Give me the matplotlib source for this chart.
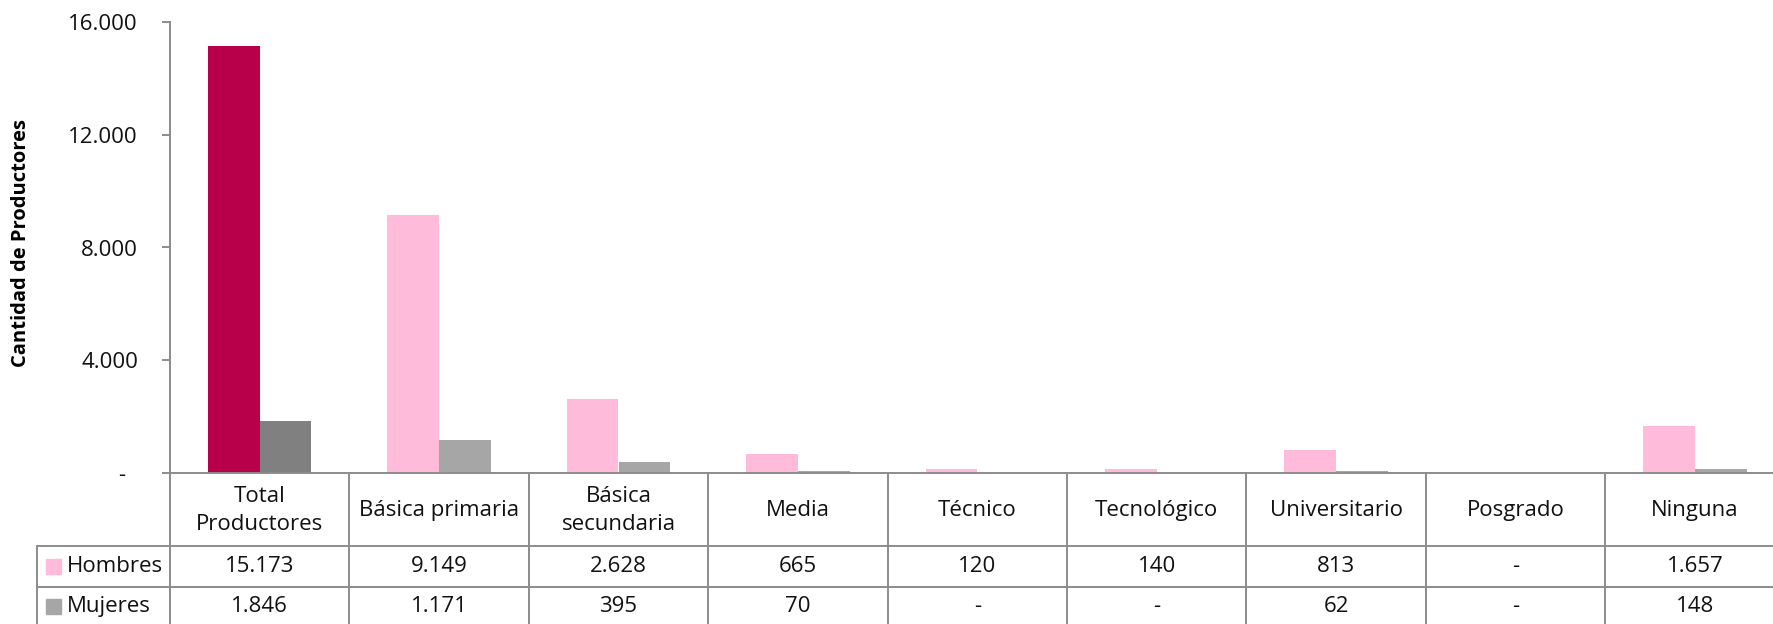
import matplotlib.pyplot as plt
from matplotlib.transforms import blended_transform_factory
from matplotlib.patches import Rectangle
from matplotlib.lines import Line2D
from matplotlib.ticker import FuncFormatter

categorias = ["Total\nProductores", "Básica primaria", "Básica\nsecundaria", "Media",
              "Técnico", "Tecnológico", "Universitario", "Posgrado", "Ninguna"]
hombres = [15173, 9149, 2628, 665, 120, 140, 813, 0, 1657]
mujeres = [1846, 1171, 395, 70, 0, 0, 62, 0, 148]
series = ["Hombres", "Mujeres"]
yticks = [0, 4000, 8000, 12000, 16000]

plt.rcParams['font.family'] = ['Open Sans', 'DejaVu Sans']

W, H = 1774, 624
GRIS = "#8c8c8c"
ROSA = "#ffbbd9"
GRIS_CLARO = "#a6a6a6"
CARMIN = "#b8004a"
GRIS_OSCURO = "#808080"

def fx(px):
  return px / W

def fy(py):
  return 1 - py / H

def miles(v):
  if v == 0:
    return "-"
  return f"{int(v):,}".replace(",", ".")

# bordes del area de trazado, en pixeles
x0, x1 = 170, 1784.6
y_top, y_cero = 22.3, 472.7

def ay(py):
  return (y_cero - py) / (y_cero - y_top)

fig = plt.figure(figsize=(W / 100, H / 100), dpi=100)
ax = fig.add_axes([fx(x0), fy(y_cero), fx(x1 - x0), (y_cero - y_top) / H])

w = 0.288
n = len(categorias)
xs = list(range(n))
col_h = [CARMIN] + [ROSA] * (n - 1)
col_m = [GRIS_OSCURO] + [GRIS_CLARO] * (n - 1)
ax.bar([x - w / 2 for x in xs], hombres, w, color=col_h, linewidth=0)
ax.bar([x + w / 2 for x in xs], mujeres, w, color=col_m, linewidth=0)

ax.set_xlim(-0.5, n - 0.5)
ax.set_ylim(0, 16000)
ax.set_yticks(yticks)
ax.yaxis.set_major_formatter(FuncFormatter(lambda v, p: "-  " if v == 0 else miles(v)))
ax.tick_params(axis="y", direction="out", length=6, width=1.4, color=GRIS,
               labelsize=16, pad=17, labelcolor="#111111")
ax.set_xticks([])
for s in ["top", "right"]:
  ax.spines[s].set_visible(False)
for s in ["left", "bottom"]:
  ax.spines[s].set_color(GRIS)
  ax.spines[s].set_linewidth(1.4)

ax.set_ylabel("Cantidad de Productores", fontsize=14.5, fontweight="bold")
ax.yaxis.set_label_coords((31 - x0) / (x1 - x0), 0.51)

# tabla de datos
tr = blended_transform_factory(ax.transData, ax.transAxes)
fila1, fila2, fondo = 545.7, 586.7, 630
for i in range(n + 1):
  ax.add_line(Line2D([i - 0.5, i - 0.5], [0, ay(fondo)], transform=tr,
                     color=GRIS, lw=1.4, clip_on=False))
for py in [fila1, fila2]:
  fig.add_artist(Line2D([fx(36.7), 1.0], [fy(py), fy(py)], color=GRIS, lw=1.4))
fig.add_artist(Line2D([fx(36.7), fx(36.7)], [fy(fila1), 0], color=GRIS, lw=1.4))

for i, cat in enumerate(categorias):
  ax.text(i, ay((y_cero + fila1) / 2 + 1), cat, transform=tr, ha="center", va="center",
          fontsize=16, linespacing=1.45, color="#111111")
  ax.text(i, ay((fila1 + fila2) / 2), miles(hombres[i]), transform=tr,
          ha="center", va="center", fontsize=16, color="#111111")
  ax.text(i, ay((fila2 + fondo) / 2 - 1.5), miles(mujeres[i]), transform=tr,
          ha="center", va="center", fontsize=16, color="#111111")

for nombre, color, (a, b) in zip(series, [ROSA, GRIS_CLARO], [(fila1, fila2), (fila2, fondo - 3)]):
  c = (a + b) / 2
  fig.add_artist(Rectangle((fx(46), fy(c + 7.5)), fx(15), 15 / H, color=color,
                           transform=fig.transFigure))
  fig.text(fx(67), fy(c), nombre, ha="left", va="center", fontsize=16, color="#111111")

fig.savefig("out.png", dpi=100)
